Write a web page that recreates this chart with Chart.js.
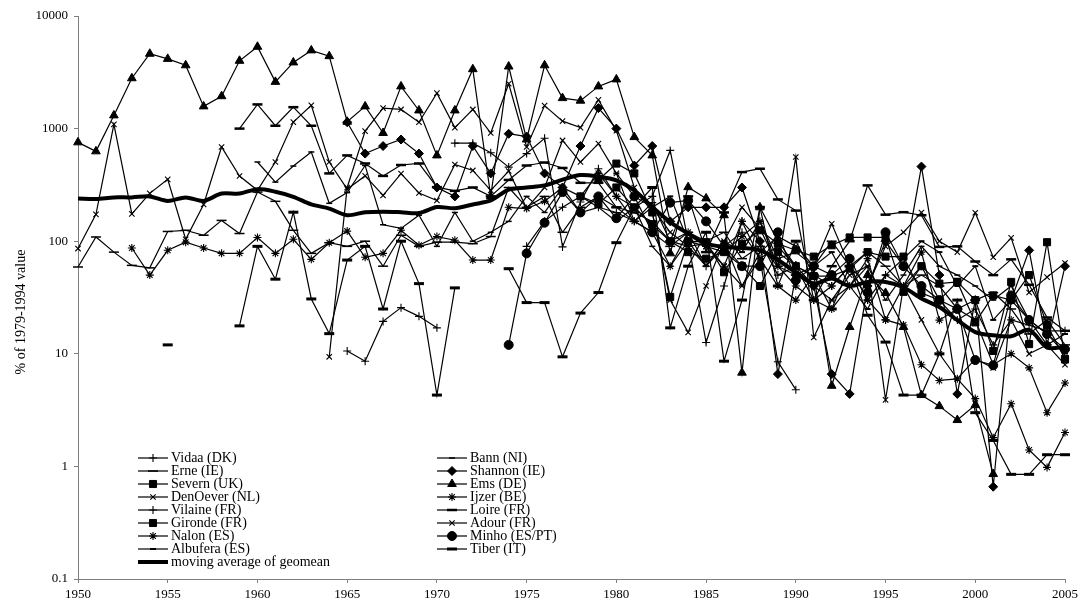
<!DOCTYPE html>
<html lang="en">
<head>
  <meta charset="UTF-8">
  <title>Glass eel recruitment, % of 1979-1994 value</title>
  <script src="https://cdn.jsdelivr.net/npm/chart.js"></script>
  <style>
    html, body { margin: 0; padding: 0; background: #fff; }
    #wrap { width: 1087px; height: 606px; position: relative; }
  </style>
</head>
<body>
<div id="wrap"><canvas id="myChart" width="1087" height="606"></canvas></div>
<script>
const _ = null;

// years on the x axis
const years = [1950,1951,1952,1953,1954,1955,1956,1957,1958,1959,
               1960,1961,1962,1963,1964,1965,1966,1967,1968,1969,
               1970,1971,1972,1973,1974,1975,1976,1977,1978,1979,
               1980,1981,1982,1983,1984,1985,1986,1987,1988,1989,
               1990,1991,1992,1993,1994,1995,1996,1997,1998,1999,
               2000,2001,2002,2003,2004,2005];
const yTickValues = [0.1, 1, 10, 100, 1000, 10000];
const yTitle = '% of 1979-1994 value';

// series, one value per year (null = no data)
const vidaa = [_,_,_,_,_,_,_,_,_,_,
               _,_,_,_,_,10.6,8.6,19.4,25.7,21.5,
               17,_,_,_,_,90,150,200,250,200,
               180,150,220,100,90,60,90,120,70,8.5,
               4.8,_,_,_,_,_,_,_,_,_,
               _,_,_,_,_,_];
const bann = [_,_,_,_,_,_,_,_,_,_,
              505,335,465,620,217,270,470,140,130,170,
              90,180,100,120,150,250,180,300,180,200,
              150,200,90,60,120,60,100,40,70,90,
              60,40,30,40,60,30,50,90,60,50,
              40,30,40,20,15,10];
const erne = [59,109,80,61,58,122,125,113,153,117,
              273,226,125,78,97,90,100,60,113,90,
              98,98,95,110,300,200,250,120,200,250,
              200,150,120,90,120,100,120,70,90,60,
              50,60,100,60,80,60,40,50,40,25,
              30,35,25,15,20,12];
const shannon = [_,_,_,_,_,_,_,_,_,_,
                 _,_,_,_,_,1140,600,700,800,600,
                 300,250,700,400,900,850,400,300,700,1520,
                 1000,470,700,150,200,200,200,300,100,6.6,
                 50,40,6.6,4.4,40,100,60,460,50,4.4,
                 30,0.66,30,83,12,60];
const severn = [_,_,_,_,_,_,_,_,_,_,
                _,_,_,_,_,_,_,_,_,_,
                _,_,_,_,_,_,_,_,_,350,
                489,400,180,32,100,98,53,95,125,95,
                83,73,92,108,108,108,35.5,60,42,43.5,
                30,10.6,43.5,12.2,98,8.9];
const ems = [755,628,1310,2800,4620,4160,3650,1575,1940,4000,
             5330,2600,3870,4950,4400,1150,1575,914,2370,1450,
             578,1450,3370,250,3560,800,3650,1865,1770,2370,
             2735,841,578,78,302,240,170,6.8,200,100,
             60,50,5.2,17.3,50,34.7,17.3,4.3,3.43,2.58,
             3.5,0.855,_,_,_,_];
const denOever = [_,_,_,_,_,_,_,_,_,_,
                  _,_,_,_,9.4,300,950,1520,1480,1140,
                  2065,1020,1480,914,2500,686,1600,1165,1020,1800,
                  960,300,180,30,15.5,40,100,200,130,60,
                  560,14,30,50,60,3.9,40,20,10,6,
                  9,7.5,20,10,12,8];
const ijzer = [_,_,_,87,50,83,98,87,78,78,
               108,78,104,69,97,123,72,78,125,92,
               110,102,68,68,200,195,226,300,250,400,
               250,150,120,60,100,90,80,110,150,60,
               40,30,25,40,70,20,18,8,5.8,6,
               4,1.8,3.6,1.4,0.98,2.0];
const vilaine = [_,_,_,_,_,_,_,_,_,_,
                 _,_,_,_,_,_,_,_,_,_,
                 _,743,743,611,455,600,820,89,223,440,
                 250,200,250,640,100,12.6,40,150,100,50,
                 60,30,40,60,30,50,40,60,30,20,
                 25,12,20,18,16,16];
const loire = [_,_,_,_,_,_,_,_,_,1000,
               1640,1060,1550,1060,400,578,490,380,475,490,
               302,280,300,250,350,470,500,447,330,330,
               200,180,150,100,250,80,180,411,440,235,
               187,30,60,100,313,172,181,170,89,90,
               66,50,69,41,21,16];
const gironde = [_,_,_,_,_,_,_,_,_,_,
                 _,_,_,_,_,_,_,_,_,_,
                 _,_,_,_,_,_,_,_,250,215,
                 300,200,140,100,80,70,80,60,40,80,
                 60,49,49,57,80,73,73,34.7,30,43.5,
                 19,33,30,50,18,9];
const adour = [86,173,1090,175,266,354,104,212,686,379,
               283,505,1142,1608,505,290,380,255,398,268,
               230,480,425,283,420,196,300,785,505,735,
               400,250,200,120,90,95,60,40,80,110,
               90,60,143,60,40,90,120,180,100,80,
               179,72,107,35,48,64];
const nalon = [_,_,_,_,_,_,_,_,_,_,
               _,_,_,_,_,_,_,_,_,_,
               _,_,_,_,_,_,_,_,_,_,
               _,_,_,100,120,90,60,150,70,40,
               30,50,40,60,30,20,40,80,19.9,25,
               20,8,10,7.5,3.0,5.5];
const minho = [_,_,_,_,_,_,_,_,_,_,
               _,_,_,_,_,_,_,_,_,_,
               _,_,_,_,12,78,146,273,180,250,
               160,250,120,220,230,150,90,60,60,120,
               45,60,50,70,35,120,60,40,30,25,
               8.8,7.9,33,20,15,11];
const albufera = [_,_,_,_,_,_,_,_,_,_,
                  _,_,_,_,_,_,_,_,_,_,
                  _,_,_,_,_,_,_,_,_,_,
                  400,150,200,250,100,60,100,80,150,70,
                  80,60,80,40,25,50,70,100,80,40,
                  60,20,30,20,12,15];
const tiber = [_,_,_,_,_,12,_,_,_,17.7,
               90,46,181,30.7,15.1,68,90,25,100,42,
               4.3,38.5,_,_,57,28.5,28.5,9.4,23,35,
               97,200,300,17,60,120,8.6,30,200,40,
               100,50,25,60,22,12.7,4.3,4.3,10,30,
               3.0,1.7,0.85,0.85,1.27,1.27];
const movingAvg = [240,237,245,245,250,228,245,228,265,265,
                   290,275,248,212,195,170,181,183,181,178,
                   201,196,212,230,287,300,313,352,387,375,
                   347,283,201,148,117,95,89,87,83,68,
                   53,42,46.6,40,43.5,43.5,39,31,26,19.9,
                   15.6,14.6,14.3,16.3,11.4,11.5];

const serif = '"Liberation Serif", "Times New Roman", serif';

function pts(vals) {
  return years.map((yr, i) => ({ x: yr, y: vals[i] }));
}

function series(label, vals, style, radius, markWidth) {
  return {
    label: label,
    data: pts(vals),
    borderColor: '#000',
    borderWidth: 1.2,
    pointStyle: style,
    pointRadius: radius,
    pointBorderWidth: markWidth,
    pointBackgroundColor: '#000',
    pointBorderColor: '#000',
    tension: 0,
    clip: false
  };
}

// legend order is row by row, two columns
const datasets = [
  series('Vidaa (DK)', vidaa, 'cross', 4, 1.1),
  series('Bann (NI)', bann, 'line', 3, 1.5),
  series('Erne (IE)', erne, 'line', 5, 1.5),
  series('Shannon (IE)', shannon, 'rectRot', 4.5, 1),
  series('Severn (UK)', severn, 'rect', 5, 1),
  series('Ems (DE)', ems, 'triangle', 5, 1),
  series('DenOever (NL)', denOever, 'crossRot', 3.8, 1.1),
  series('Ijzer (BE)', ijzer, 'star', 4, 1.1),
  series('Vilaine (FR)', vilaine, 'cross', 4, 1.1),
  series('Loire (FR)', loire, 'line', 5, 2.5),
  series('Gironde (FR)', gironde, 'rect', 5, 1),
  series('Adour (FR)', adour, 'crossRot', 3.8, 1.1),
  series('Nalon (ES)', nalon, 'star', 4, 1.1),
  series('Minho (ES/PT)', minho, 'circle', 4.5, 1),
  series('Albufera (ES)', albufera, 'line', 3, 2),
  series('Tiber (IT)', tiber, 'line', 5, 3),
  {
    label: 'moving average of geomean',
    data: pts(movingAvg),
    borderColor: '#000',
    borderWidth: 4,
    pointRadius: 0,
    tension: 0.3,
    order: -1,
    clip: false
  }
];

// two-column legend drawn inside the plot, plus the y axis title
const boxLegend = {
  id: 'boxLegend',
  afterDraw(chart) {
    const ctx = chart.ctx;
    const colX = [138, 437];
    const rowY0 = 458, rowH = 13, lineLen = 30;
    ctx.save();
    ctx.font = '14px ' + serif;
    ctx.textBaseline = 'middle';
    chart.data.datasets.forEach((ds, i) => {
      const x = colX[i % 2];
      const y = rowY0 + Math.floor(i / 2) * rowH;
      ctx.strokeStyle = '#000';
      ctx.fillStyle = '#000';
      ctx.lineWidth = ds.borderWidth;
      ctx.beginPath();
      ctx.moveTo(x, y);
      ctx.lineTo(x + lineLen, y);
      ctx.stroke();
      if (ds.pointRadius > 0 && Chart.helpers && Chart.helpers.drawPoint) {
        ctx.lineWidth = ds.pointBorderWidth;
        Chart.helpers.drawPoint(ctx, {
          pointStyle: ds.pointStyle,
          radius: ds.pointRadius,
          borderWidth: ds.pointBorderWidth,
          rotation: 0
        }, x + lineLen / 2, y);
      }
      ctx.fillStyle = '#000';
      ctx.fillText(ds.label, x + lineLen + 3, y);
    });

    // rotated y axis title, centred a little below the plot middle
    ctx.translate(21, 312);
    ctx.rotate(-Math.PI / 2);
    ctx.textAlign = 'center';
    ctx.font = '14px ' + serif;
    ctx.fillText(yTitle, 0, 0);
    ctx.restore();
  }
};

const ctx = document.getElementById('myChart').getContext('2d');
const myChart = new Chart(ctx, {
  type: 'line',
  data: { datasets: datasets },
  plugins: [boxLegend],
  options: {
    responsive: false,
    animation: false,
    layout: { padding: { top: 16, right: 22, left: 0, bottom: 0 } },
    plugins: {
      legend: { display: false },
      tooltip: { enabled: false }
    },
    scales: {
      x: {
        type: 'linear',
        min: 1950,
        max: 2005,
        afterFit: (s) => { s.height = 27; },
        grid: { drawOnChartArea: false, drawTicks: true, tickLength: 4, color: '#808080' },
        border: { display: true, color: '#808080', width: 1 },
        ticks: {
          stepSize: 5,
          padding: 4,
          color: '#000',
          font: { family: serif, size: 13 },
          maxRotation: 0,
          callback: (v) => String(v)
        }
      },
      y: {
        type: 'logarithmic',
        min: 0.1,
        max: 10000,
        afterFit: (s) => { s.width = 78; },
        afterBuildTicks: (s) => { s.ticks = yTickValues.map(v => ({ value: v })); },
        grid: { drawOnChartArea: false, drawTicks: true, tickLength: 4, color: '#808080' },
        border: { display: true, color: '#808080', width: 1 },
        ticks: {
          padding: 6,
          color: '#000',
          font: { family: serif, size: 13 },
          callback: (v) => String(v)
        }
      }
    }
  }
});
</script>
</body>
</html>
